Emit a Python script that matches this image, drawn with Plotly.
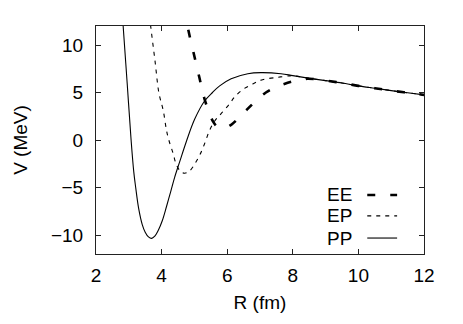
import plotly.graph_objects as go

# potentials, R in fm, V in MeV
pp_r = [2.79, 2.83, 2.95, 3.07, 3.15, 3.21, 3.30, 3.41, 3.50, 3.60, 3.70, 3.80, 3.90, 4.02, 4.15,
        4.28, 4.40, 4.56, 4.76, 5.01, 5.31, 5.55, 5.77, 6.12, 6.63, 7.03, 7.64, 8.0, 8.5, 9.0,
        9.5, 10.0, 10.5, 11.0, 11.5, 12.0]
pp_v = [14.0, 11.9, 6.0, 0.0, -3.3, -5.0, -7.2, -8.9, -9.7, -10.2, -10.35, -10.1, -9.5, -8.5, -7.0,
        -5.4, -3.9, -2.2, -0.1, 2.2, 4.1, 5.0, 5.7, 6.45, 6.98, 7.09, 6.98, 6.78, 6.5, 6.25,
        6.0, 5.7, 5.45, 5.2, 4.97, 4.75]

ep_r = [3.60, 3.67, 3.80, 3.92, 4.05, 4.15, 4.22, 4.35, 4.45, 4.58, 4.70, 4.84, 4.96, 5.16, 5.31,
        5.46, 5.62, 5.82, 6.07, 6.22, 6.47, 6.78, 7.08, 7.54, 7.89, 8.0, 8.5, 9.0, 9.5, 10.0,
        10.5, 11.0, 11.5, 12.0]
ep_v = [14.0, 11.9, 8.3, 4.9, 3.1, 1.0, 0.0, -1.4, -2.6, -3.3, -3.5, -3.3, -2.8, -1.6, -0.4,
        1.0, 2.0, 2.8, 3.8, 4.5, 5.3, 5.9, 6.35, 6.6, 6.75, 6.76, 6.5, 6.25, 6.0, 5.7,
        5.45, 5.2, 4.97, 4.75]

ee_r = [4.68, 4.82, 4.98, 5.15, 5.31, 5.45, 5.56, 5.70, 5.90, 6.12, 6.40, 6.63, 6.90, 7.18, 7.45,
        7.74, 8.1, 8.45, 9.0, 9.5, 10.0, 10.5, 11.0, 11.5, 12.0]
ee_v = [14.0, 11.5, 9.1, 6.6, 4.3, 2.9, 2.0, 1.4, 1.25, 1.6, 2.5, 3.3, 4.2, 5.0, 5.5,
        5.9, 6.25, 6.45, 6.25, 6.0, 5.7, 5.45, 5.2, 4.97, 4.75]

x_ticks = [2, 4, 6, 8, 10, 12]
y_ticks = [-10, -5, 0, 5, 10]

font = "Liberation Sans, Arial, sans-serif"
fsize = 19

fig = go.Figure()
fig.add_trace(go.Scatter(x=ee_r, y=ee_v, mode="lines", name="EE", line_shape="spline",
                         line=dict(color="black", width=2.6, dash="8px,15px")))
fig.add_trace(go.Scatter(x=ep_r, y=ep_v, mode="lines", name="EP", line_shape="spline",
                         line=dict(color="black", width=1.1, dash="4px,5px")))
fig.add_trace(go.Scatter(x=pp_r, y=pp_v, mode="lines", name="PP", line_shape="spline",
                         line=dict(color="black", width=1.1)))

# gnuplot style key: label on the left, sample on the right
key = [("EE", 0.259, 2.6, "8px,15px"), ("EP", 0.167, 1.1, "4px,5px"), ("PP", 0.070, 1.1, "solid")]
for name, ky, w, d in key:
    fig.add_annotation(x=0.787, y=ky, xref="paper", yref="paper", text=name, showarrow=False,
                       xanchor="right", yanchor="middle", font=dict(size=fsize, color="black", family=font))
    fig.add_shape(type="line", xref="paper", yref="paper", x0=0.827, x1=0.918, y0=ky, y1=ky,
                  line=dict(color="black", width=w, dash=d))

axis_style = dict(showline=True, linecolor="#222", linewidth=1, mirror="allticks", ticks="inside",
                  ticklen=5, tickcolor="#222", showgrid=False, zeroline=False,
                  tickfont=dict(size=fsize, color="black", family=font))

fig.update_xaxes(range=[2, 12], tickvals=x_ticks, ticklabelstandoff=4,
                 title=dict(text="R (fm)", font=dict(size=fsize, color="black", family=font), standoff=10),
                 **axis_style)
fig.update_yaxes(range=[-12, 12], tickvals=y_ticks, ticklabelstandoff=8,
                 title=dict(text="V (MeV)", font=dict(size=fsize, color="black", family=font), standoff=18),
                 **axis_style)

# the page body adds 8px on the left and top, so the figure is drawn 8px smaller
fig.update_layout(width=455, height=316, margin=dict(l=86, r=39, t=18, b=70),
                  plot_bgcolor="white", paper_bgcolor="white", showlegend=False,
                  font=dict(family=font, color="black"))

fig.write_html("out.html")
